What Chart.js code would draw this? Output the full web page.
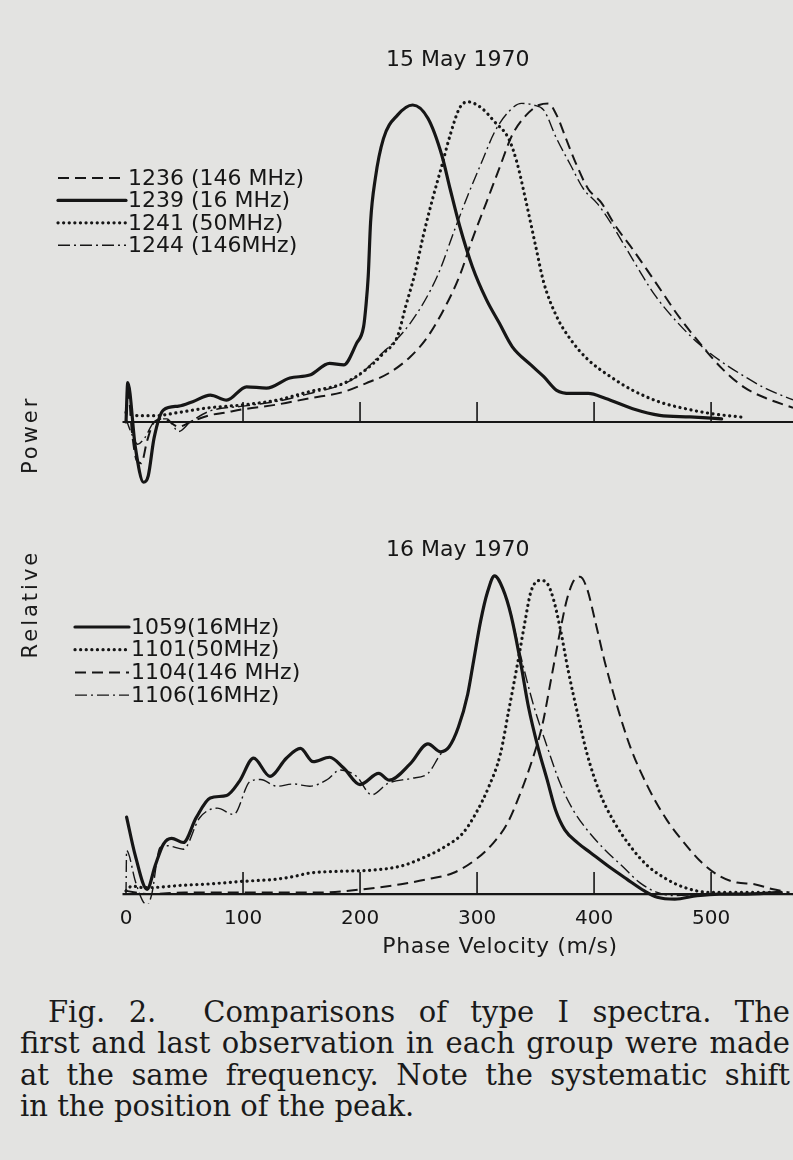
<!DOCTYPE html>
<html>
<head>
<meta charset="utf-8">
<script src="https://cdn.jsdelivr.net/npm/chart.js@4.4.1/dist/chart.umd.min.js"></script>
<style>
  body { margin: 0; background: #e3e3e1; width: 793px; height: 1160px; position: relative; overflow: hidden; }
  canvas { position: absolute; left: 0; }
  #topChart { top: 0; }
  #bottomChart { top: 510px; }
  .ylabel {
    position: absolute; left: 30px; top: 527px; width: 290px;
    transform: translate(-50%, -50%) rotate(-90deg);
    text-align: center; font: 21px "DejaVu Sans", sans-serif; color: #1a1a1a;
    letter-spacing: 3px; word-spacing: 66px; white-space: nowrap;
  }
  .xlabel {
    position: absolute; left: 360px; top: 933px; width: 280px;
    text-align: center; font: 22px "DejaVu Sans", sans-serif; color: #1a1a1a; letter-spacing: 0.6px;
  }
  .cap {
    position: absolute; font: 29px "DejaVu Serif", serif; color: #1a1a1a;
    line-height: 32px; height: 32px; white-space: nowrap;
  }
  .just { text-align: justify; text-align-last: justify; white-space: normal; }
</style>
</head>
<body>
<canvas id="topChart" width="793" height="510"></canvas>
<canvas id="bottomChart" width="793" height="460"></canvas>
<div class="ylabel">Relative Power</div>
<div class="xlabel">Phase Velocity (m/s)</div>
<div class="cap just" style="left:48px; width:742px; top:996px;">Fig. 2.&nbsp; Comparisons of type I spectra. The</div>
<div class="cap just" style="left:20px; width:770px; top:1027px;">first and last observation in each group were made</div>
<div class="cap just" style="left:20px; width:770px; top:1059px;">at the same frequency. Note the systematic shift</div>
<div class="cap" style="left:20px; top:1090px;">in the position of the peak.</div>
<script>
"use strict";

// ---- data: [phase velocity (m/s), relative power] ----
const topTitle = "15 May 1970";
const bottomTitle = "16 May 1970";
const xTickValues = [0, 100, 200, 300, 400, 500];
const markValues = [100, 200, 300, 400, 500];

const run1236 = [[0,.02],[2,.09],[5,-.03],[9,-.12],[13,-.13],[18,-.06],[24,0],[32,.01],[45,-.015],[55,0],
  [70,.02],[85,.03],[100,.04],[129,.055],[157,.075],[186,.095],[205,.122],[224,.153],[243,.206],[258,.27],
  [273,.365],[285,.46],[296,.577],[308,.693],[319,.80],[330,.905],[342,.968],[353,1.0],[361,1.005],[368,.968],
  [376,.894],[384,.82],[395,.735],[406,.693],[418,.62],[433,.545],[448,.465],[460,.40],[471,.34],[490,.25],
  [509,.17],[528,.11],[547,.075],[570,.045]];

const run1239 = [[0,0],[1.5,.124],[8,-.08],[15,-.19],[19,-.17],[24,-.05],[32,.038],[45,.05],[57,.064],[72,.085],
  [86,.069],[103,.111],[120,.107],[140,.139],[157,.148],[174,.185],[186,.18],[197,.248],[203,.30],[205,.365],
  [207,.46],[209,.63],[213,.767],[220,.894],[232,.968],[245,1.0],[258,.958],[270,.84],[277,.735],[285,.62],
  [296,.49],[308,.386],[319,.312],[330,.238],[346,.18],[357,.143],[368,.10],[380,.09],[395,.09],[410,.074],
  [433,.042],[456,.021],[482,.016],[509,.01]];

const run1241 = [[0,.03],[10,.02],[25,.02],[45,.03],[69,.044],[100,.054],[129,.069],[157,.096],[186,.122],[205,.165],
  [220,.217],[232,.27],[239,.365],[247,.47],[254,.587],[262,.704],[270,.81],[277,.905],[285,.99],[292,1.01],
  [304,.99],[315,.947],[327,.894],[334,.82],[342,.693],[350,.556],[357,.44],[368,.333],[380,.26],[395,.196],
  [414,.143],[433,.10],[456,.063],[478,.042],[501,.026],[527,.015]];

const run1244 = [[0,.01],[4,-.03],[10,-.07],[16,-.05],[24,0],[35,.01],[45,-.03],[55,0],[72,.035],[100,.05],
  [129,.065],[157,.09],[186,.12],[200,.15],[213,.196],[243,.312],[266,.46],[281,.608],[292,.714],[304,.82],
  [315,.915],[327,.979],[338,1.005],[348,1.0],[357,.984],[368,.894],[380,.81],[391,.735],[403,.688],[414,.63],
  [433,.513],[452,.40],[471,.315],[490,.245],[509,.19],[528,.145],[547,.105],[570,.07]];

const run1059 = [[0.5,.242],[8,.12],[18,.015],[25,.09],[32,.157],[39,.175],[49,.162],[60,.24],[72,.302],[86,.31],
  [97,.355],[109,.427],[123,.37],[137,.427],[149,.458],[160,.416],[174,.43],[186,.396],[200,.344],[216,.379],
  [225,.358],[243,.41],[258,.472],[269,.447],[276,.462],[284,.524],[292,.628],[297,.732],[303,.857],[309,.95],
  [315,1.0],[322,.96],[329,.877],[337,.732],[344,.587],[352,.462],[360,.358],[367,.265],[375,.202],[386,.161],
  [397,.13],[412,.088],[428,.047],[443,.01],[454,-.01],[469,-.016],[488,-.005],[507,0],[526,0],[560,.005]];

const run1101 = [[0,.01],[5,.025],[15,.02],[30,.022],[50,.028],[72,.032],[100,.04],[129,.047],[143,.055],[157,.066],
  [186,.072],[206,.074],[235,.088],[254,.114],[273,.15],[288,.192],[299,.254],[310,.337],[320,.441],[327,.576],
  [335,.732],[341,.857],[346,.95],[354,.986],[360,.976],[365,.93],[371,.836],[378,.70],[386,.566],[394,.441],
  [405,.317],[416,.234],[431,.15],[446,.088],[462,.047],[477,.021],[499,.005],[526,.005],[552,.005]];

const run1104 = [[0,.01],[20,0],[50,.005],[100,.005],[167,.005],[205,.016],[235,.031],[258,.047],[280,.067],[299,.109],
  [314,.161],[326,.223],[337,.317],[348,.431],[356,.535],[363,.67],[371,.826],[377,.929],[384,.992],[388,.997],
  [394,.96],[401,.857],[409,.732],[420,.587],[431,.462],[446,.337],[462,.234],[477,.161],[492,.099],[507,.057],
  [522,.036],[537,.031],[552,.016],[567,.005]];

const run1106 = [[0,0],[0.5,.137],[8,.04],[14,-.02],[18,-.035],[22,0],[29,.146],[35,.152],[49,.141],[63,.24],
  [78,.27],[92,.25],[106,.354],[115,.36],[129,.339],[143,.346],[157,.339],[172,.36],[183,.39],[197,.37],
  [210,.312],[224,.348],[243,.363],[258,.379],[269,.44],[276,.462],[284,.524],[292,.628],[303,.857],[309,.95],
  [314,1.0],[326,.92],[337,.753],[348,.597],[360,.462],[371,.348],[382,.265],[394,.202],[409,.14],[424,.088],
  [439,.036],[454,.005],[469,-.005],[500,0],[540,0]];

const INK = "#161616";
const FONT = "'DejaVu Sans', sans-serif";

const styles = {
  solid: { borderWidth: 3.2, borderDash: [], borderCapStyle: "round" },
  dashed: { borderWidth: 2, borderDash: [11, 6], borderCapStyle: "butt" },
  dotted: { borderWidth: 3.2, borderDash: [0.1, 5.5], borderCapStyle: "round" },
  dashdot: { borderWidth: 1.4, borderDash: [12, 4, 2, 4], borderCapStyle: "butt" },
};

function series(label, run, style) {
  return Object.assign({
    label: label,
    data: run.map((p) => ({ x: p[0], y: p[1] })),
    borderColor: INK,
    pointRadius: 0,
    fill: false,
    cubicInterpolationMode: "monotone",
  }, styles[style]);
}

// baseline through zero with small upward tick marks
const baselinePlugin = {
  id: "baseline",
  beforeDatasetsDraw(chart, args, opts) {
    const { ctx, chartArea, scales } = chart;
    const y0 = scales.y.getPixelForValue(0);
    ctx.save();
    ctx.strokeStyle = INK;
    ctx.lineWidth = 2.2;
    ctx.beginPath();
    ctx.moveTo(chartArea.left, y0);
    ctx.lineTo(chartArea.right, y0);
    ctx.stroke();
    ctx.lineWidth = 1.6;
    ctx.beginPath();
    markValues.forEach((v) => {
      const px = scales.x.getPixelForValue(v);
      ctx.moveTo(px, y0);
      ctx.lineTo(px, y0 - opts.markLength);
    });
    ctx.stroke();
    ctx.restore();
  },
};

// legend drawn inside the plot, line sample followed by the run label
const inlineLegend = {
  id: "inlineLegend",
  afterDraw(chart, args, opts) {
    const ctx = chart.ctx;
    ctx.save();
    ctx.font = "22px " + FONT;
    ctx.fillStyle = INK;
    ctx.textBaseline = "middle";
    chart.data.datasets.forEach((ds, i) => {
      const y = opts.top + i * opts.gap;
      ctx.strokeStyle = ds.borderColor;
      ctx.lineWidth = ds.borderWidth;
      ctx.lineCap = ds.borderCapStyle;
      ctx.setLineDash(ds.borderDash);
      ctx.beginPath();
      ctx.moveTo(opts.x0, y);
      ctx.lineTo(opts.x1, y);
      ctx.stroke();
      ctx.setLineDash([]);
      ctx.fillText(ds.label, opts.x1 + 2, y + 1);
    });
    ctx.restore();
  },
};

function buildChart(id, cfg) {
  return new Chart(document.getElementById(id), {
    type: "line",
    data: { datasets: cfg.datasets },
    plugins: [baselinePlugin, inlineLegend],
    options: {
      responsive: false,
      animation: false,
      layout: { padding: cfg.padding },
      plugins: {
        legend: { display: false },
        tooltip: { enabled: false },
        title: {
          display: true,
          text: cfg.title,
          color: INK,
          font: { family: FONT, size: 22, weight: "normal" },
          padding: { top: 0, bottom: cfg.titleGap },
        },
        baseline: { markLength: cfg.markLength },
        inlineLegend: cfg.legend,
      },
      scales: {
        x: {
          type: "linear",
          min: -3,
          max: 570,
          display: cfg.showX,
          afterBuildTicks: (scale) => {
            scale.ticks = xTickValues.map((v) => ({ value: v }));
          },
          grid: { display: false, drawTicks: false },
          border: { display: false },
          ticks: {
            color: INK,
            font: { family: FONT, size: 20 },
            padding: 3,
            autoSkip: false,
            maxRotation: 0,
          },
        },
        y: {
          display: false,
          min: cfg.yMin,
          max: cfg.yMax,
        },
      },
    },
  });
}

buildChart("topChart", {
  title: topTitle,
  datasets: [
    series("1236 (146 MHz)", run1236, "dashed"),
    series("1239 (16 MHz)", run1239, "solid"),
    series("1241 (50MHz)", run1241, "dotted"),
    series("1244 (146MHz)", run1244, "dashdot"),
  ],
  padding: { left: 122.5, right: 0, top: 46.8, bottom: 8.75 },
  titleGap: 15.95,
  yMin: -0.25,
  yMax: 1.05,
  showX: false,
  markLength: 20,
  legend: { x0: 58, x1: 126, top: 178, gap: 22.4 },
});

buildChart("bottomChart", {
  title: bottomTitle,
  datasets: [
    series("1059(16MHz)", run1059, "solid"),
    series("1101(50MHz)", run1101, "dotted"),
    series("1104(146 MHz)", run1104, "dashed"),
    series("1106(16MHz)", run1106, "dashdot"),
  ],
  padding: { left: 122.5, right: 0, top: 26.8, bottom: 36.4 },
  titleGap: 3.14,
  yMin: -0.03,
  yMax: 1.03,
  showX: true,
  markLength: 22,
  legend: { x0: 75, x1: 129, top: 117, gap: 22.7 },
});
</script>
</body>
</html>
